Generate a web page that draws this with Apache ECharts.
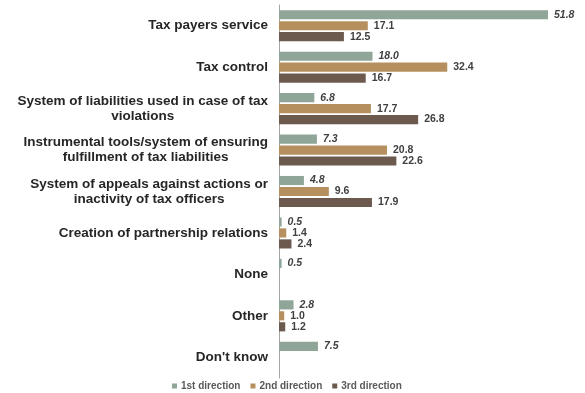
<!DOCTYPE html>
<html>
<head>
<meta charset="utf-8">
<script src="https://cdn.jsdelivr.net/npm/echarts@6/dist/echarts.min.js"></script>
<style>
  html, body { margin: 0; padding: 0; background: #fff; }
  #chart { width: 585px; height: 393px; }
</style>
</head>
<body>
<div id="chart"></div>
<script>
// Categories (top to bottom), with line breaks for the long ones
var categories = [
  'Tax payers service',
  'Tax control',
  'System of liabilities used in case of tax\nviolations',
  'Instrumental tools/system of ensuring\nfulfillment of tax liabilities',
  'System of appeals against actions or\ninactivity of tax officers',
  'Creation of partnership relations',
  'None',
  'Other',
  "Don't know"
];

var seriesNames = ['1st direction', '2nd direction', '3rd direction'];

var firstDirection  = [51.8, 18.0, 6.8, 7.3, 4.8, 0.5, 0.5, 2.8, 7.5];
var secondDirection = [17.1, 32.4, 17.7, 20.8, 9.6, 1.4, null, 1.0, null];
var thirdDirection  = [12.5, 16.7, 26.8, 22.6, 17.9, 2.4, null, 1.2, null];

var colors = ['#8fa597', '#b68f5f', '#6c5a4e'];
var fontFamily = '"Liberation Sans", Arial, sans-serif';

function makeSeries(name, data, color, italic) {
  return {
    name: name,
    type: 'bar',
    data: data,
    barGap: '20%',
    barCategoryGap: '25%',
    itemStyle: { color: color },
    label: {
      show: true,
      position: 'right',
      distance: 6,
      fontFamily: fontFamily,
      fontSize: 10.5,
      fontWeight: 'bold',
      fontStyle: italic ? 'italic' : 'normal',
      color: '#404040',
      formatter: function (p) { return p.value == null ? '' : Number(p.value).toFixed(1); }
    }
  };
}

var chart = echarts.init(document.getElementById('chart'));
chart.setOption({
  animation: false,
  backgroundColor: '#ffffff',
  grid: { left: 279, top: 5, height: 373, width: 285.6, containLabel: false },
  xAxis: {
    type: 'value',
    min: 0,
    max: 55,
    show: false
  },
  yAxis: {
    type: 'category',
    inverse: true,
    data: categories,
    axisLine: { show: true, lineStyle: { color: '#a6a6a6', width: 1 } },
    axisTick: { show: false },
    axisLabel: {
      margin: 11,
      interval: 0,
      formatter: function (v) {
        return v.split('\n').map(function (line) { return '{c|' + line + '}'; }).join('\n');
      },
      rich: {
        c: {
          align: 'center',
          fontFamily: fontFamily,
          fontSize: 13.5,
          fontWeight: 'bold',
          color: '#262626',
          lineHeight: 15
        }
      }
    }
  },
  legend: {
    data: seriesNames,
    top: 376,
    left: 167,
    icon: 'rect',
    itemWidth: 5,
    itemHeight: 5,
    itemGap: 10,
    textStyle: { fontFamily: fontFamily, fontSize: 10, fontWeight: 'bold', color: '#595959', padding: [0, 0, 0, -1] }
  },
  series: [
    makeSeries(seriesNames[0], firstDirection, colors[0], true),
    makeSeries(seriesNames[1], secondDirection, colors[1], false),
    makeSeries(seriesNames[2], thirdDirection, colors[2], false)
  ]
});
</script>
</body>
</html>
